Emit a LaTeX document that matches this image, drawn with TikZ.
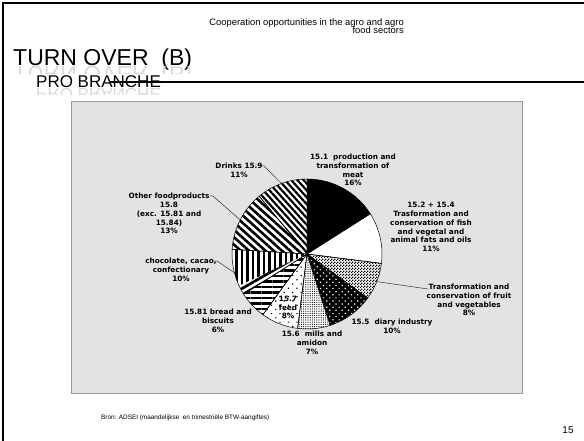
\documentclass[tikz,border=0pt]{standalone}
\usepackage{fontspec}
\setmainfont{Liberation Sans}
\newfontfamily\chartfont{DejaVu Sans}
\usetikzlibrary{patterns,patterns.meta}
\pgfdeclarepattern{
  name=finechecker,
  type=uncolored,
  bottom left={\pgfpointorigin},
  top right={\pgfpoint{3pt}{3pt}},
  tile size={\pgfpoint{3pt}{3pt}},
  code={
    \pgfpathrectangle{\pgfpointorigin}{\pgfpoint{1.5pt}{1.5pt}}
    \pgfpathrectangle{\pgfpoint{1.5pt}{1.5pt}}{\pgfpoint{1.5pt}{1.5pt}}
    \pgfusepath{fill}
  }
}
\tikzset{
  lbl/.style={font=\chartfont\bfseries\fontsize{7.3}{8.8}\selectfont, align=center, text=black, inner sep=0pt},
  leader/.style={draw=black!80, line width=0.5pt},
  pieslice/.style 2 args={insert path={(0,0) -- (#1:75) arc[start angle=#1, end angle=#2, radius=75] -- cycle}},
  sliceline/.style={draw=black, line width=0.5pt},
  refl/.style={anchor=base west, inner sep=0, yscale=-1, text=black!14},
}
\begin{document}
\begin{tikzpicture}[x=1pt,y=-1pt]
\useasboundingbox (0,0) rectangle (584,441);
\fill[white] (0,0) rectangle (584,441);
% slide frame
\draw[line width=2pt] (3,441) -- (3,3) -- (584,3);
% header
\node[anchor=base east, font=\fontsize{9.4}{8.5}\selectfont, inner sep=0] (hdr1) at (404,26) {Cooperation opportunities in the agro and agro};
\node[anchor=base east, font=\fontsize{9.4}{8.5}\selectfont, inner sep=0] (hdr2) at (404,34) {food sectors};
% title with faint reflection
\node[anchor=base west, font=\fontsize{23}{26}\selectfont, inner sep=0] (title) at (13,66) {TURN OVER\ \ (B)};
\begin{scope}
\clip (0,66.5) rectangle (220,74);
\node[refl, font=\fontsize{23}{26}\selectfont] (titlerefl) at (13,67) {TURN OVER\ \ (B)};
\end{scope}
\node[anchor=base west, font=\fontsize{17}{20}\selectfont, inner sep=0] (sub) at (36,88) {PRO BRANCHE};
\begin{scope}
\clip (0,88.5) rectangle (220,95);
\node[refl, font=\fontsize{17}{20}\selectfont] (subrefl) at (36,89) {PRO BRANCHE};
\end{scope}
\draw[line width=1.5pt] (110,82) -- (584,82);
% chart area
\draw[fill=black!11, draw=black!40, line width=0.8pt] (71,101) rectangle (522,393);
% pie
\begin{scope}[shift={(307,254)}, yscale=-1]
\fill[black, pieslice={90}{32.4}];
\fill[white, pieslice={32.4}{-7.2}];
\fill[white, pieslice={-7.2}{-36}];
\fill[pattern=finechecker, pattern color=black, pieslice={-7.2}{-36}];
\fill[black, pieslice={-36}{-72}];
\fill[pattern={Dots[radius=0.85pt, distance=4.4pt, angle=45]}, pattern color=white, pieslice={-36}{-72}];
\fill[white, pieslice={-72}{-97.2}];
\fill[pattern={Dots[radius=0.6pt, distance=2.2pt]}, pattern color=black, pieslice={-72}{-97.2}];
\fill[white, pieslice={-97.2}{-126}];
\fill[pattern={Dots[radius=0.75pt, distance=6pt, angle=45]}, pattern color=black, pieslice={-97.2}{-126}];
\fill[white, pieslice={-126}{-147.6}];
\fill[pattern={Lines[angle=0, distance=5.5pt, line width=2.7pt]}, pattern color=black, pieslice={-126}{-147.6}];
\fill[white, pieslice={-147.6}{-183.6}];
\fill[pattern={Lines[angle=90, distance=5.5pt, line width=2.7pt]}, pattern color=black, pieslice={-155}{-183.6}];
\fill[pattern={Lines[angle=30, distance=5.5pt, line width=2.7pt]}, pattern color=black, pieslice={-147.6}{-155}];
\fill[white, pieslice={-183.6}{-230.4}];
\fill[pattern={Lines[angle=-42, distance=5.5pt, line width=2.6pt]}, pattern color=black, pieslice={-183.6}{-230.4}];
\fill[white, pieslice={-230.4}{-270}];
\fill[pattern={Lines[angle=-48, distance=4.6pt, line width=2.2pt]}, pattern color=black, pieslice={-230.4}{-270}];
\foreach \a/\b in {90/32.4, 32.4/-7.2, -7.2/-36, -36/-72, -72/-97.2, -97.2/-126, -126/-147.6, -147.6/-183.6, -183.6/-230.4, -230.4/-270}
  \draw[sliceline, pieslice={\a}{\b}];
\coordinate (pDrinks) at (109.8:75);
\coordinate (pOther) at (153:75);
\coordinate (pChoc) at (194.4:75);
\coordinate (pFruit) at (-21.6:75);
\end{scope}
% labels
\node[lbl] (lmeat) at (353,170) {15.1\ \ production and\\transformation of\\meat\\16\%};
\node[lbl] (lfish) at (431,227) {15.2 + 15.4\\Trasformation and\\conservation of fish\\and vegetal and\\animal fats and oils\\11\%};
\node[lbl] (lfruit) at (469,300) {Transformation and\\conservation of fruit\\and vegetables\\8\%};
\node[lbl] (ldiary) at (392,326) {15.5\ \ diary industry\\10\%};
\node[lbl] (lmills) at (312,343) {15.6\ \ mills and\\amidon\\7\%};
\node[lbl] (lfeed) at (288,307.5) {15.7\\feed\\8\%};
\node[lbl] (lbread) at (218,320.7) {15.81 bread and\\biscuits\\6\%};
\node[lbl] (lchoc) at (181,269.5) {chocolate, cacao,\\confectionary\\10\%};
\node[lbl] (lother) at (169,213.5) {Other foodproducts\\15.8\\(exc. 15.81 and\\15.84)\\13\%};
\node[lbl] (ldrinks) at (239,170.3) {Drinks 15.9\\11\%};
% leader lines
\coordinate (eDrinks) at (261,166);
\coordinate (eOther) at (210,196);
\coordinate (eChoc) at (214,261);
\coordinate (eFruit) at (428,289);
\draw[leader] (eDrinks) -- ++(3,0) -- (pDrinks);
\draw[leader] (eOther) -- ++(3,0) -- (pOther);
\draw[leader] (eChoc) -- ++(3,0) -- (pChoc);
\draw[leader] (pFruit) -- (eFruit);
% footer
\node[anchor=base west, font=\fontsize{6.4}{7.5}\selectfont, inner sep=0] (src) at (101,419) {Bron: ADSEI (maandelijkse\ \ en trimestriële BTW-aangiftes)};
\node[font=\fontsize{10}{12}\selectfont, inner sep=0] (pageno) at (568,430) {15};
\end{tikzpicture}
\end{document}
